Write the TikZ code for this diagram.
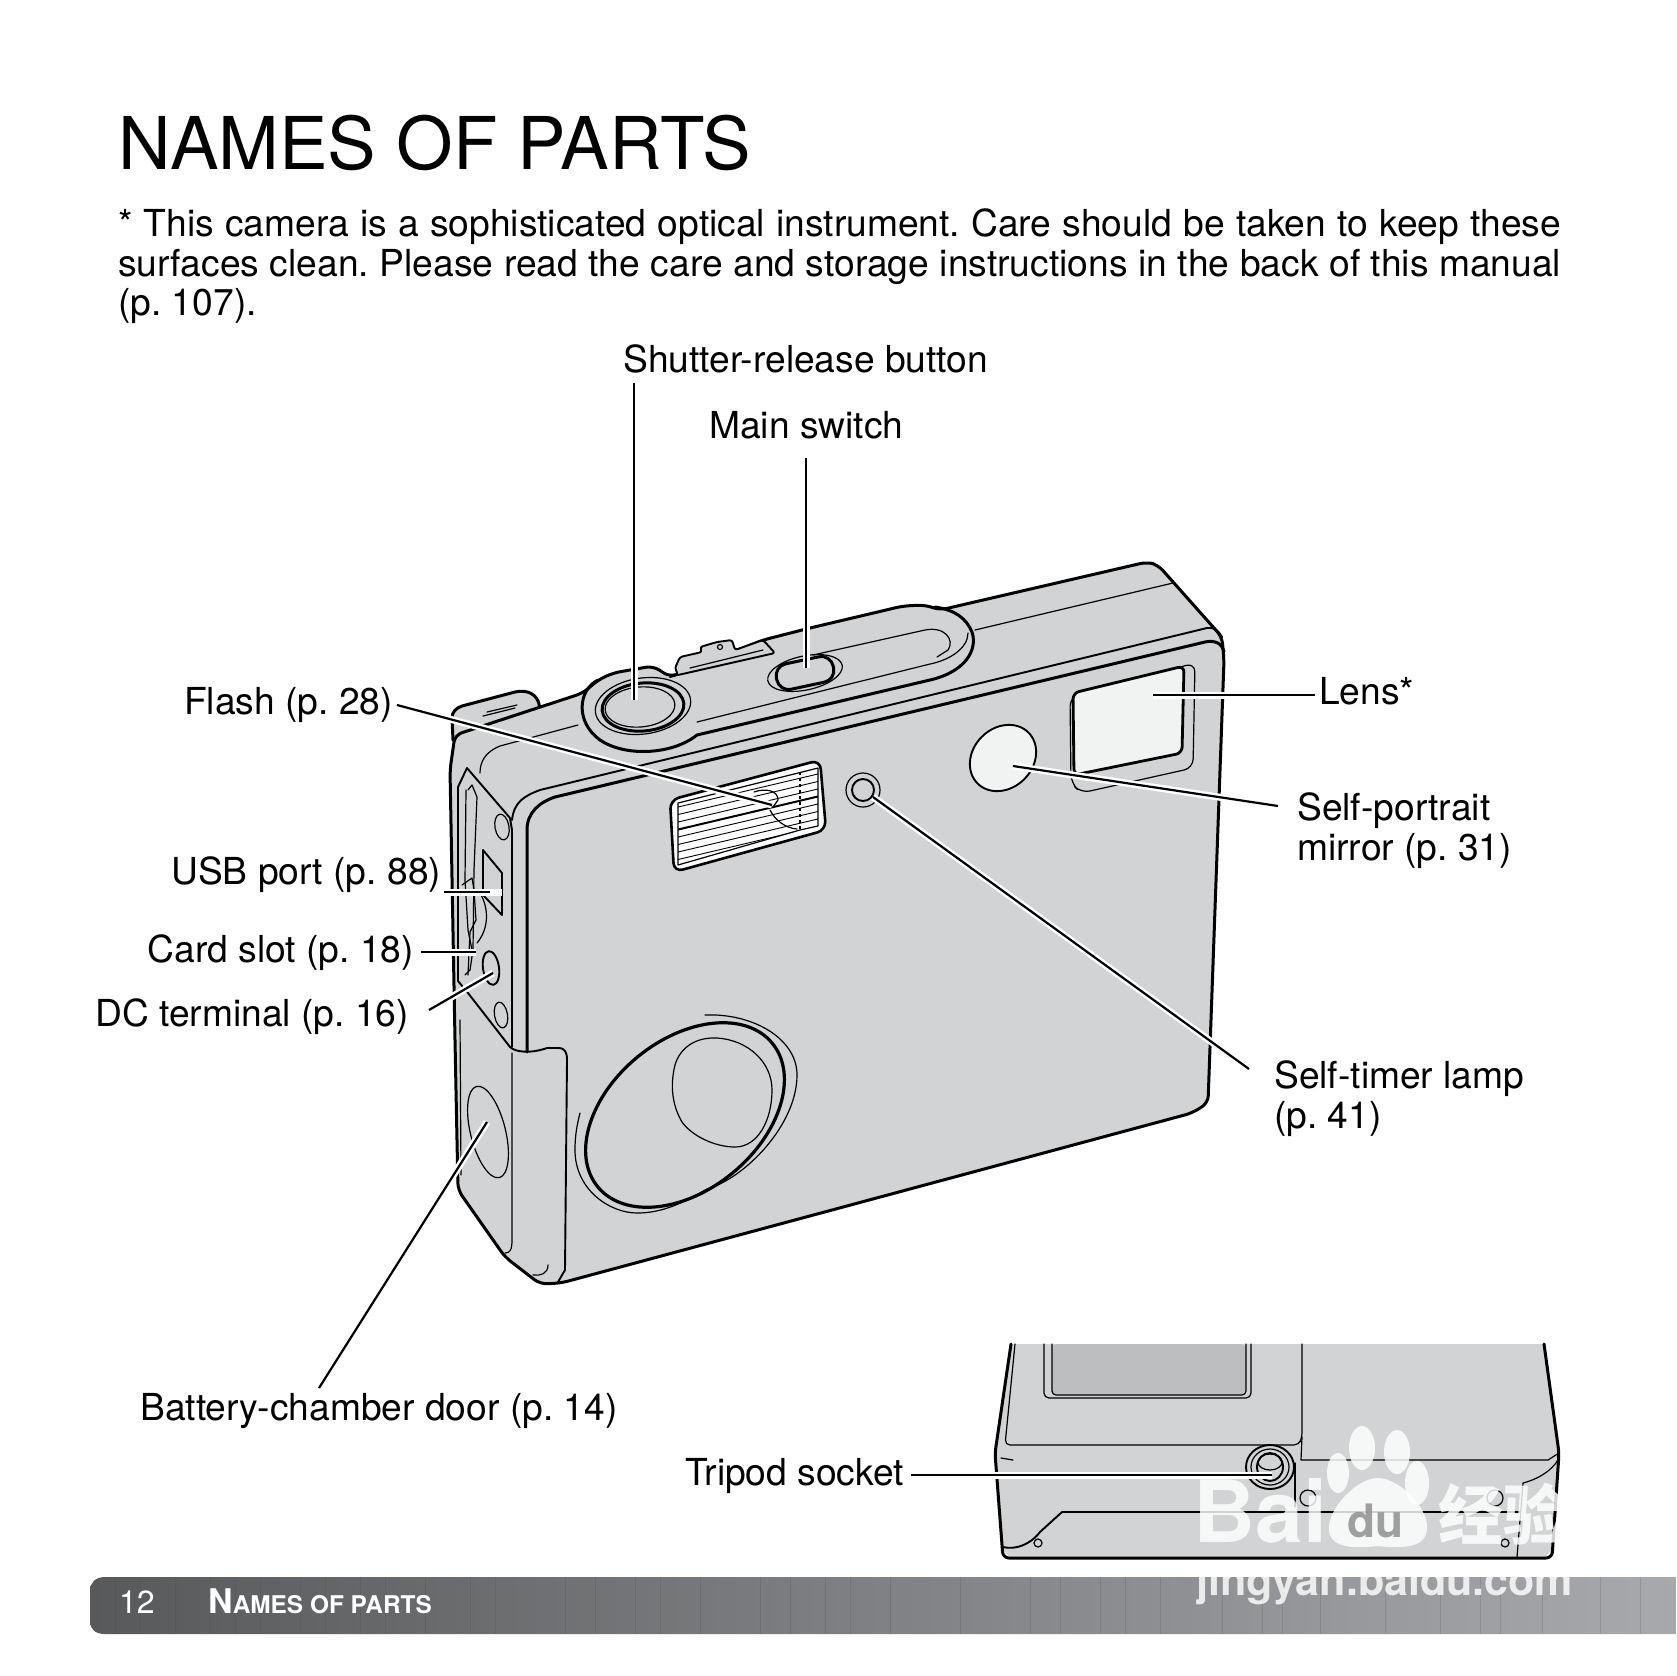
\documentclass[tikz,border=0pt]{standalone}
\usepackage{fontspec}
\setmainfont{TeX Gyre Heros}
\newfontfamily\cjkfont{Noto Sans CJK SC}
\usetikzlibrary{shadings}
\frenchspacing
\definecolor{cam}{HTML}{D1D3D4}
\definecolor{lite}{HTML}{F1F2F2}
\definecolor{lcd}{HTML}{BCBEC0}
\definecolor{barL}{HTML}{58595B}
\definecolor{barR}{HTML}{A7A9AC}
\newcommand{\leaderline}[2]{%
  \draw[white,line width=7pt] (#1) -- (#2);
  \draw[black,line width=2.2pt] (#1) -- (#2);}
\tikzset{
  lbl/.style={anchor=base west,inner sep=0pt,font=\fontsize{37.2}{40}\selectfont},
  heavy/.style={line width=3pt,line join=round,line cap=round},
  midl/.style={line width=1.9pt,line join=round,line cap=round},
  thin1/.style={line width=1.2pt,line join=round,line cap=round},
}
\begin{document}
\begin{tikzpicture}[x=1pt,y=-1pt]
\useasboundingbox (0,0) rectangle (1676,1676);
\fill[white] (0,0) rectangle (1676,1676);

% ---- main camera ----
\draw[heavy,fill=cam] (453,740) -- (452,718) .. controls (452,712) and (456,708) .. (462,706) -- (515,692) .. controls (528,689) and (537,695) .. (539,704) -- (540,725) -- cycle;
\draw[thin1] (487,712) -- (517,705);
\draw[thin1] (483,716) -- (515,708);

\draw[heavy,fill=cam,rounded corners=7pt] (450,770) -- (455,735) -- (583,693) -- (598,680) -- (613,673) -- (653,666) -- (670,677) -- (763,640) -- (810,628) -- (903,606) -- (925,605) -- (940,610) -- (1147,562) -- (1158,565) -- (1222,637) -- (1224,660) -- (1208,1103) -- (1192,1113) -- (561,1283) -- (540,1284) -- (505,1257) -- (458,1190) -- (455,1040) -- cycle;

% top panel
\draw[heavy] (598,680) .. controls (578,690) and (575,722) .. (600,740) .. controls (625,757) and (672,755) .. (697,735) -- (930,680) .. controls (965,672) and (978,650) .. (972,632) .. controls (966,618) and (955,610) .. (935,607);
\draw[thin1] (697,722) -- (930,664) .. controls (950,660) and (968,648) .. (968,633);
\draw[thin1] (813,655) -- (925,630) .. controls (945,626) and (955,640) .. (948,650) -- (937,657);
\draw[thin1] (975,630) -- (1173,583);

% shutter + main switch
\draw[thin1] (643,706) ellipse [x radius=48pt,y radius=28pt,rotate=8];
\draw[heavy] (643,707) ellipse [x radius=41pt,y radius=24pt,rotate=5];
\draw[thin1] (640,707) ellipse [x radius=35pt,y radius=20pt,rotate=5];
\draw[thin1] (805,673) ellipse [x radius=38pt,y radius=17pt,rotate=12];
\draw[heavy,rotate around={12:(805,673)},rounded corners=12pt] (776,660) rectangle (834,686);

% lever
\draw[midl,fill=cam,rounded corners=2.5pt] (670,677) -- (678,675) -- (675,668) -- (680,657) -- (702,652) -- (700,647) -- (717,642) -- (732,640) -- (735,650) -- (763,640) -- (775,653) -- (678,675);
\draw[thin1] (690,668) -- (763,650);
\draw[thin1] (720,647) circle [radius=2.5pt];

% front plate
\draw[heavy] (527,1052) -- (527,830) .. controls (527,812) and (540,802) .. (555,797) -- (1205,642) .. controls (1215,640) and (1222,643) .. (1224,652);
\draw[midl] (512,820) .. controls (514,802) and (524,796) .. (540,790) -- (1207,628) .. controls (1214,627) and (1218,630) .. (1222,637);
\draw[thin1] (480,773) .. controls (480,762) and (485,752) .. (500,746) -- (578,725);

% side panel
\draw[midl] (468,993) -- (458,981) -- (458,787) -- (467,768) -- (510,818) -- (512,830) -- (512,1047);
\draw[thin1] (468,790) -- (472,785) -- (477,797) -- (474,870) -- (473,950) -- (470,970) -- (465,975);
\draw[thin1] (466,790) -- (465,880) -- (468,930) -- (472,950);
\draw[thin1] (462,885) -- (472,878) -- (474,890) -- (476,920) -- (470,932) -- (468,975);
\draw[midl] (483,850) -- (502,873) -- (502,915) -- (483,895) -- cycle;
\draw[thin1] (480,893) .. controls (490,910) and (488,930) .. (477,943);
\draw[thin1] (502,827) ellipse [x radius=7pt,y radius=13pt,rotate=10];
\draw[midl] (491,968) ellipse [x radius=8pt,y radius=17pt,rotate=8];
\draw[thin1] (501,1015) ellipse [x radius=6.5pt,y radius=13pt,rotate=10];

% battery door
\draw[midl] (468,993) -- (510,1047) .. controls (515,1052) and (530,1054) .. (547,1048) -- (558,1048) .. controls (565,1048) and (567,1052) .. (567,1060) -- (565,1270) -- (558,1282);
\draw[thin1] (512,1053) -- (512,1240) .. controls (512,1250) and (510,1253) .. (505,1253);
\draw[thin1] (548,1265) .. controls (548,1274) and (540,1276) .. (533,1275);
\draw[thin1] (460,1020) -- (461,1175);
\draw[thin1] (488,1132) ellipse [x radius=17.5pt,y radius=47pt,rotate=14];

% flash
\draw[line width=2.6pt,fill=white,rounded corners=9pt] (670,800) -- (820,760) -- (826,830) -- (674,872) -- cycle;
\begin{scope}
\clip (678,803) -- (818,768) -- (818,826) -- (800,830) -- (678,865) -- cycle;
\fill[cam] (800,830) -- (818,826) -- (818,830) -- (678,870) -- cycle;
\foreach \d in {0,7.5,...,72}{\draw[line width=.9pt] (676,800+\d) -- (820,766+\d);}
\draw[line width=2pt] (676,830) -- (820,796);
\end{scope}
\draw[thin1] (678,803) -- (818,768) -- (818,826) -- (800,830) -- (678,865) -- cycle;
\draw[line width=1.6pt,dashed] (800,772) -- (800,829);
\draw[thin1] (754,792) .. controls (765,788) and (778,790) .. (778,800) -- (773,807);
\draw[thin1] (770,810) .. controls (775,820) and (785,828) .. (797,829);

% self-timer
\draw[thin1,fill=cam] (863,790) circle [radius=17pt];
\draw[midl,fill=cam] (863,790) circle [radius=11pt];

% mirror
\draw[midl,fill=lite] (1003,758) ellipse [x radius=36pt,y radius=30pt,rotate=45];

% lens
\draw[thin1,rounded corners=9pt] (1070,697) -- (1195,663) -- (1193,768) -- (1081,793) -- (1071,783) -- cycle;
\draw[heavy,fill=lite,rounded corners=6pt,line width=2.8pt] (1073,693) -- (1184,666) -- (1182,753) -- (1074,775) -- cycle;

% lens ring
\draw[line width=3.2pt] (685,1115) ellipse [x radius=113pt,y radius=75pt,rotate=39.5];
\draw[thin1] (705,1015) .. controls (752,1013) and (797,1038) .. (797,1075) .. controls (797,1125) and (745,1178) .. (707,1189) .. controls (680,1205) and (660,1213) .. (637,1213) .. controls (610,1213) and (575,1190) .. (575,1150) .. controls (575,1135) and (577,1125) .. (580,1113);
\draw[thin1] (717,1038) .. controls (748,1040) and (772,1062) .. (772,1090) .. controls (772,1120) and (758,1147) .. (735,1147) .. controls (715,1147) and (692,1136) .. (682,1122) .. controls (672,1105) and (670,1085) .. (675,1065) .. controls (680,1048) and (695,1037) .. (717,1038) -- cycle;

% ---- bottom view ----
\fill[cam] (1011,1344) -- (995,1453) -- (1003,1550) -- (1011,1558) -- (1544,1558) -- (1552,1550) -- (1559,1453) -- (1544,1344) -- cycle;
\draw[heavy,rounded corners=6pt] (1011,1344) -- (995,1453) -- (1003,1558) -- (1552,1558) -- (1559,1453) -- (1544,1344);
\fill[lcd,rounded corners=5pt] (1052,1344) -- (1052,1395) -- (1246,1395) -- (1246,1344) -- cycle;
\draw[thin1,rounded corners=5pt] (1044,1344) -- (1044,1398) -- (1251,1398) -- (1251,1344);
\draw[thin1,rounded corners=4pt] (1052,1344) -- (1052,1395) -- (1246,1395) -- (1246,1344);
\draw[thin1,rounded corners=5pt] (1015,1344) -- (1005,1445) -- (1299,1445) -- (1302,1437) -- (1302,1344);
\draw[thin1] (1001,1458) -- (1013,1460);
\draw[thin1] (1302,1437) -- (1301,1460) -- (1548,1460) -- (1559,1453);
\draw[thin1] (1295,1463) -- (1295,1507);
\draw[midl] (1270,1467) ellipse [x radius=24pt,y radius=22pt];
\draw[thin1] (1270,1467) ellipse [x radius=19pt,y radius=18pt];
\draw[midl] (1270,1467) ellipse [x radius=13pt,y radius=14pt];
\draw[thin1] (1270,1462) ellipse [x radius=12pt,y radius=8pt];
\draw[thin1] (1308,1498) circle [radius=8pt];
\draw[thin1] (1495,1498) circle [radius=8pt];
\draw[thin1] (1038,1543) circle [radius=4pt];
\draw[thin1] (1505,1543) circle [radius=4pt];
\draw[midl] (1003,1547) .. controls (1015,1550) and (1030,1545) .. (1040,1532) -- (1062,1512) -- (1520,1512);
\draw[thin1] (1517,1557) -- (1523,1483) .. controls (1535,1480) and (1552,1472) .. (1559,1458);

% ---- footer bar ----
\shade[left color=barL,right color=barR] (1676,1577) -- (105,1577) .. controls (95,1577) and (90,1583) .. (90,1591) -- (90,1621) .. controls (90,1629) and (95,1634) .. (105,1634) -- (1676,1634) -- cycle;
\foreach \bx in {115,140,175,210,235,260,300,325,360,385,425,470,495,565,595,635,660,700,760,790,825,850,890,960,1030,1060,1100,1125,1160,1222,1262,1282,1320,1385,1440,1480,1500,1542,1600,1640}{
  \draw[black!25!barL,opacity=.18,line width=.8pt] (\bx,1577) -- (\bx,1634);}

% ---- leaders ----
\coordinate (tipShutter) at (634,700);
\coordinate (fromShutter) at (634,383);
\coordinate (tipMain) at (806,668);
\coordinate (fromMain) at (806,458);
\coordinate (tipFlash) at (772,805);
\coordinate (fromFlash) at (397,705);
\coordinate (tipUSB) at (500,892);
\coordinate (fromUSB) at (444,892);
\coordinate (tipCard) at (476,952);
\coordinate (fromCard) at (421,952);
\coordinate (tipDC) at (493,973);
\coordinate (fromDC) at (429,1010);
\coordinate (tipTimer) at (873,797);
\coordinate (fromTimer) at (1249,1069);
\coordinate (tipLens) at (1153,695);
\coordinate (fromLens) at (1315,695);
\coordinate (tipMirror) at (1013,766);
\coordinate (fromMirror) at (1278,806);
\coordinate (tipDoor) at (487,1122);
\coordinate (fromDoor) at (319,1388);
\coordinate (tipTripod) at (1272,1475);
\coordinate (fromTripod) at (911,1475);
\leaderline{fromShutter}{tipShutter}
\leaderline{fromMain}{tipMain}
\leaderline{fromFlash}{tipFlash}
\leaderline{fromUSB}{tipUSB}
\draw[white,line width=7pt] (490,892) -- (502,892);
\leaderline{fromCard}{tipCard}
\leaderline{fromDC}{tipDC}
\leaderline{fromTimer}{tipTimer}
\leaderline{fromLens}{tipLens}
\leaderline{fromMirror}{tipMirror}
\leaderline{fromDoor}{tipDoor}
\leaderline{fromTripod}{tipTripod}

% ---- watermark ----
\begin{scope}[opacity=.82]
\node[anchor=base west,inner sep=0pt,text=white,font=\fontsize{86}{86}\selectfont\bfseries] (wmBai) at (1193,1542) {Bai};
\fill[white] (1362,1448) ellipse [x radius=13pt,y radius=22pt];
\fill[white] (1397,1452) ellipse [x radius=13pt,y radius=22pt];
\fill[white] (1338,1473) ellipse [x radius=11pt,y radius=20pt];
\fill[white] (1417,1483) ellipse [x radius=12pt,y radius=22pt];
\fill[white] (1378,1478) .. controls (1400,1478) and (1430,1510) .. (1427,1530) .. controls (1425,1550) and (1395,1548) .. (1378,1546) .. controls (1360,1548) and (1330,1550) .. (1329,1530) .. controls (1327,1510) and (1356,1478) .. (1378,1478) -- cycle;
\node[anchor=base west,inner sep=0pt,text=black!45,font=\fontsize{46}{46}\selectfont\bfseries] (wmDu) at (1347,1537) {du};
\node[anchor=base west,inner sep=0pt,text=white,font=\fontsize{65}{65}\selectfont\cjkfont\bfseries] (wmCn) at (1438,1539) {经验};
\node[anchor=base west,inner sep=0pt,text=white,font=\fontsize{43}{43}\selectfont\bfseries] (wmUrl) at (1196,1595) {jingyan.baidu.com};
\end{scope}

% ---- title + texts ----
\node[anchor=base west,inner sep=0pt,font=\fontsize{72.8}{73}\selectfont] (title) at (118,169) {NAMES OF PARTS};
\node[lbl] (body1) at (118,236) {\hbox to 1443pt{* This camera is a sophisticated optical instrument. Care should be taken to keep these}};
\node[lbl] (body2) at (118,276) {\hbox to 1443pt{surfaces clean. Please read the care and storage instructions in the back of this manual}};
\node[lbl] (body3) at (118,315) {(p. 107).};
\node[lbl] (tShutter) at (623,372) {Shutter-release button};
\node[lbl] (tMain) at (709,438) {Main switch};
\node[lbl] (tFlash) at (184,714) {Flash (p. 28)};
\node[lbl] (tUSB) at (171,884) {USB port (p. 88)};
\node[lbl] (tCard) at (147.5,962) {Card slot (p. 18)};
\node[lbl] (tDC) at (95,1026) {DC terminal (p. 16)};
\node[lbl] (tLens) at (1319,704) {Lens*};
\node[lbl] (tMirror1) at (1297,820) {Self-portrait};
\node[lbl] (tMirror2) at (1297,860) {mirror (p. 31)};
\node[lbl] (tTimer1) at (1274,1088) {Self-timer lamp};
\node[lbl] (tTimer2) at (1274,1128) {(p. 41)};
\node[lbl] (tDoor) at (140,1420) {Battery-chamber door (p. 14)};
\node[lbl] (tTripod) at (685,1485) {Tripod socket};
\node[anchor=base west,inner sep=0pt,text=white,font=\fontsize{32}{32}\selectfont] (pageNo) at (119,1613) {12};
\node[anchor=base west,inner sep=0pt,text=white,font=\bfseries\fontsize{24.4}{25}\selectfont] (runHead) at (208,1613) {{\fontsize{34}{34}\selectfont N}AMES OF PARTS};
\end{tikzpicture}
\end{document}
